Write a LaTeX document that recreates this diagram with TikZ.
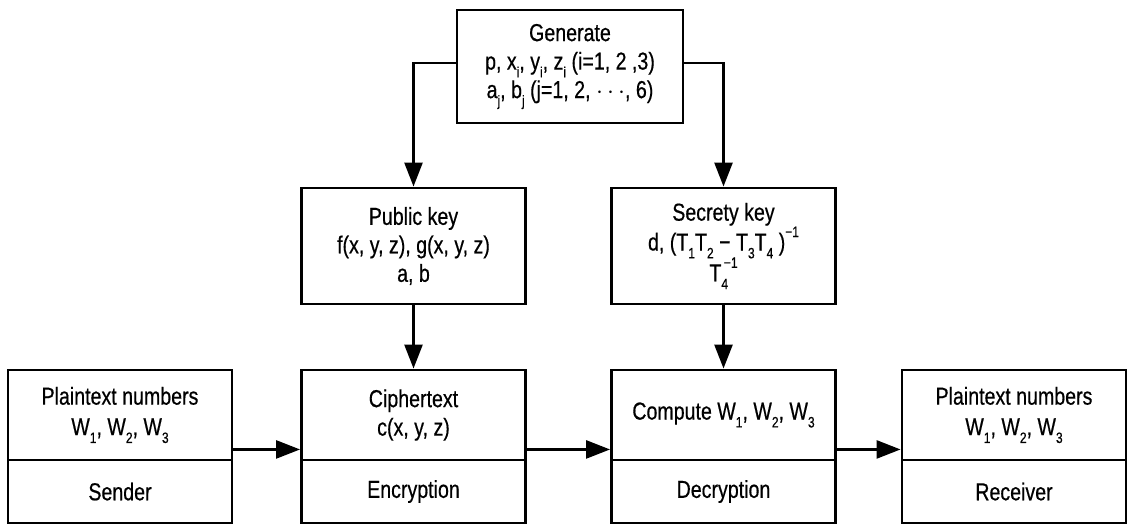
\documentclass[tikz,border=0pt]{standalone}
\usepackage{fontspec}
\setmainfont{Liberation Sans}[FakeStretch=0.8,FakeBold=0.5]
\usetikzlibrary{arrows.meta}
% lowered and raised indices in the narrow sans face
\newcommand\lo[1]{\raisebox{-0.32em}{\fontsize{15}{15}\selectfont #1}}
\newcommand\hi[1]{\raisebox{0.55em}{\fontsize{15}{15}\selectfont #1}}
\newcommand\lohi[2]{\rlap{\lo{#1}}\hi{#2}}
\begin{document}
\begin{tikzpicture}[x=1pt,y=-1pt,
  box/.style={draw,line width=2.9pt,inner sep=0pt,align=center,
    font=\fontsize{24.5}{28.5}\selectfont},
  wide/.style={box,minimum width=224pt},
  upper/.style={wide,minimum height=90pt},
  lower/.style={wide,minimum height=63pt},
  link/.style={line width=2.6pt,-{Triangle[length=24pt,width=18pt]}}]
\useasboundingbox (0,0) rectangle (1127,526);

% key generation
\node[box,minimum width=226pt,minimum height=113pt] (gen) at (570,66.5)
  {Generate\\
   p, x\lo{i}, y\lo{i}, z\lo{i} (i=1, 2 ,3)\\
   a\lo{j}, b\lo{j} (j=1, 2, $\cdots$, 6)};

% the two keys
\node[wide,minimum height=116pt] (pub) at (413.5,246)
  {Public key\\ f(x, y, z), g(x, y, z)\\ a, b};
\node[wide,minimum height=116pt] (sec) at (723.5,246)
  {Secrety key\\ d, (T\lo{1}T\lo{2} − T\lo{3}T\lo{4} )\hi{−1}\\[-2pt] T\lohi{4}{\,−1}};

% the four stages, each with its role underneath
\node[upper] (sndTop) at (120,415) {Plaintext numbers\\[2pt] W\lo{1}, W\lo{2}, W\lo{3}};
\node[lower] (sndBot) at (120,491.5) {Sender};

\node[upper] (encTop) at (413.5,415) {Ciphertext\\ c(x, y, z)};
\node[lower] (encBot) at (413.5,491.5) {Encryption};

\node[upper] (decTop) at (723.5,415) {Compute W\lo{1}, W\lo{2}, W\lo{3}};
\node[lower] (decBot) at (723.5,491.5) {Decryption};

\node[upper] (rcvTop) at (1014,415) {Plaintext numbers\\[2pt] W\lo{1}, W\lo{2}, W\lo{3}};
\node[lower] (rcvBot) at (1014,491.5) {Receiver};

% connectors
\draw[link] ([yshift=3.5pt]gen.west) -| (pub.north);
\draw[link] ([yshift=3.5pt]gen.east) -| (sec.north);
\draw[link] (pub.south) -- (encTop.north);
\draw[link] (sec.south) -- (decTop.north);
\draw[link] ([yshift=12pt]sndTop.south east) -- ([yshift=12pt]encTop.south west);
\draw[link] ([yshift=12pt]encTop.south east) -- ([yshift=12pt]decTop.south west);
\draw[link] ([yshift=12pt]decTop.south east) -- ([yshift=12pt]rcvTop.south west);
\end{tikzpicture}
\end{document}
